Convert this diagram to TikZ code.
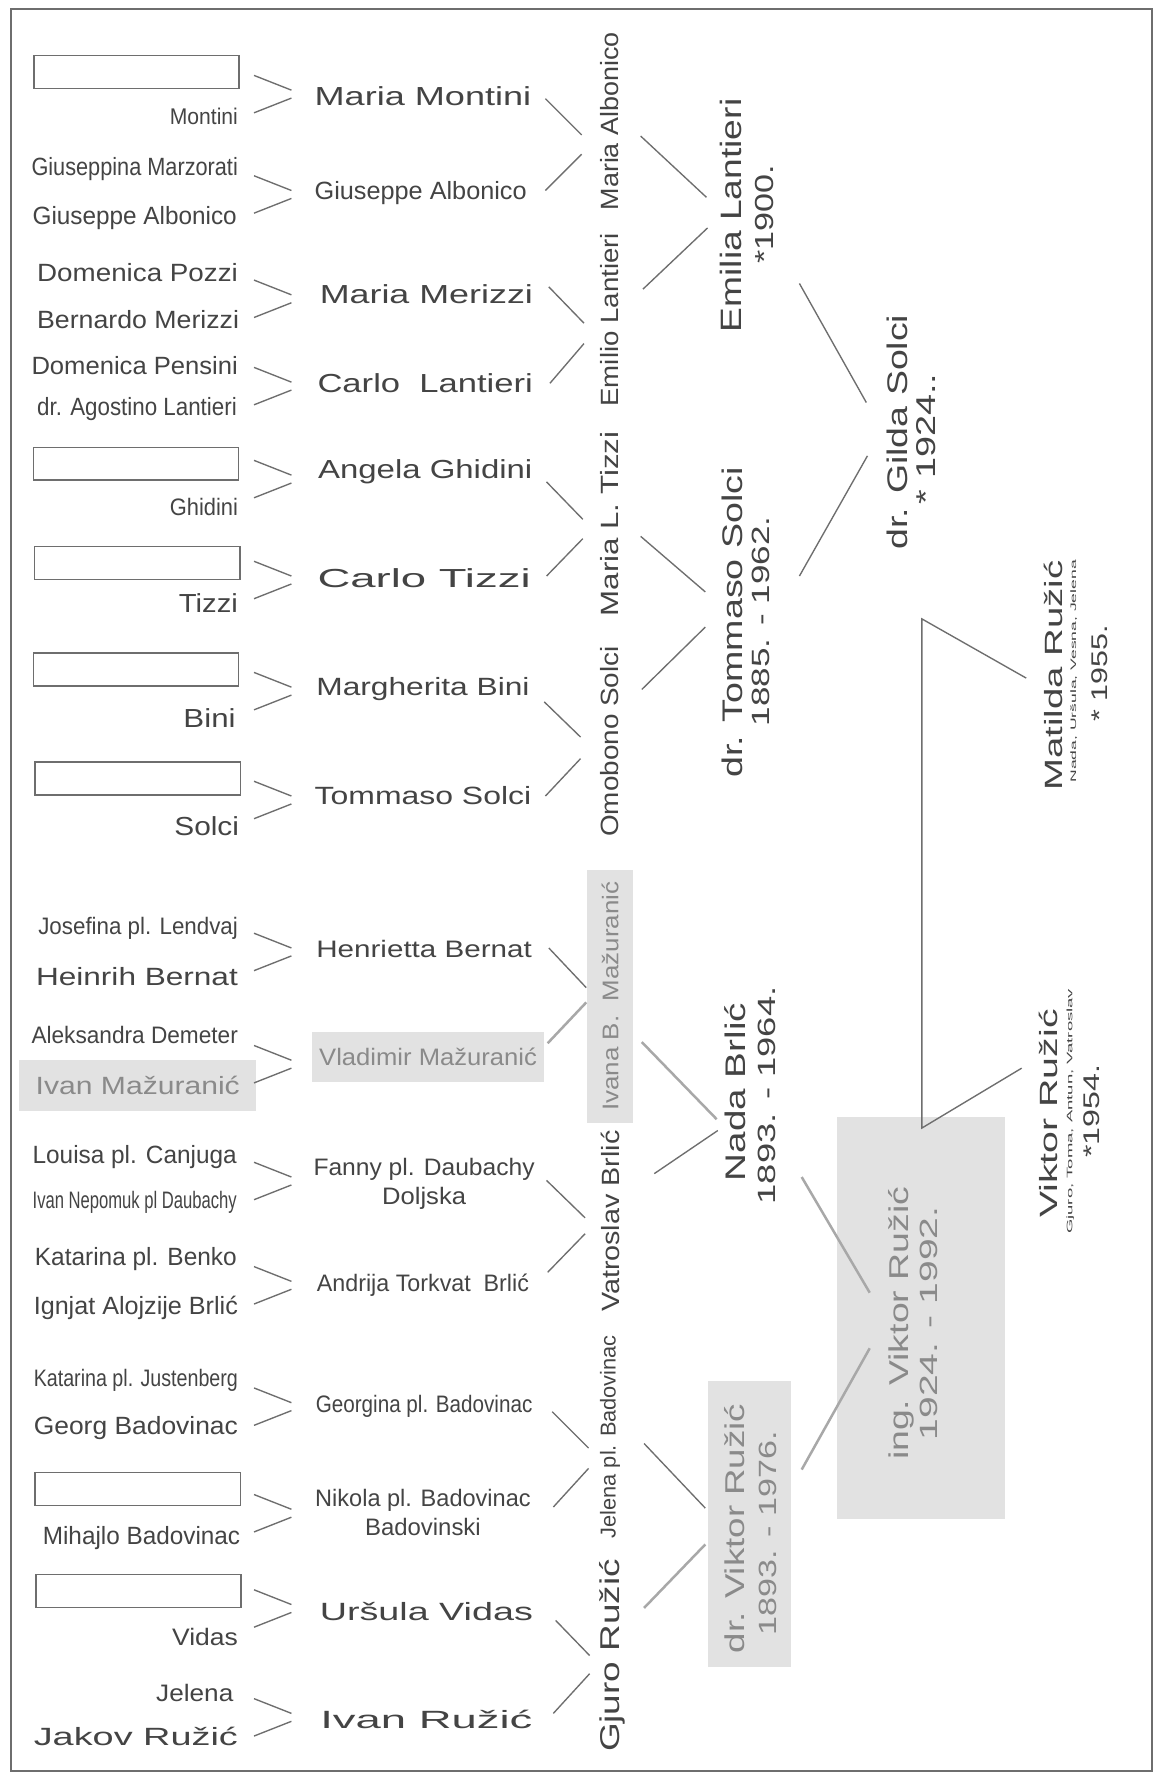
\documentclass[tikz,border=0pt]{standalone}
\usepackage{fontspec}
\setmainfont{Liberation Sans}
\usetikzlibrary{calc}
\definecolor{txt}{HTML}{444444}
\definecolor{gtxt}{HTML}{8A8A8A}
\definecolor{lnc}{HTML}{6E6E6E}
\definecolor{boxg}{HTML}{E2E2E2}
\definecolor{glc}{HTML}{A8A8A8}
\newcommand\fw[3]{{\fontsize{#1}{#1}\selectfont\resizebox{#2pt}{\height}{#3}}}
\newcommand\chev[2]{%
  \draw[ln] ($(224,0|-#1)+(0,#2-16)$) -- ($(257,0|-#1)+(0,#2-3)$);
  \draw[ln] ($(224,0|-#1)+(0,#2+17)$) -- ($(257,0|-#1)+(0,#2+4)$);}
\newcommand\lk[5][ln]{\draw[#1] ($(#2)+(#3)$) -- ($(#4)+(#5)$);}
\tikzset{
  t/.style={inner sep=0pt, text=txt},
  lone/.style={t, anchor=east},
  rot/.style={t, rotate=90},
  ln/.style={draw=lnc, line width=1.2pt},
  gln/.style={draw=glc, line width=2.2pt},
  ebox/.style={draw=lnc, line width=1.4pt, minimum width=181pt, minimum height=29pt, inner sep=0pt},
  gbox/.style={fill=boxg, inner sep=0pt, text=gtxt},
  frame/.style={draw=lnc, line width=1.5pt}
}
\begin{document}
\begin{tikzpicture}[x=1pt,y=-1pt]
\useasboundingbox (0,0) rectangle (1021,1568);
\fill[white] (0,0) rectangle (1021,1568);
\draw[frame] (10,8) rectangle (1016,1562);

% ---- gray boxes ----
\node[gbox, minimum width=74pt, minimum height=252pt] (dvb) at (661,1344) {};
\node[gbox, minimum width=148pt, minimum height=355pt] (ingvb) at (812,1162.5) {};

% ---- column 1 ----
\node[ebox] (b1) at (120.5,63.5) {};
\node[lone] (p1b) at (210,103) {\fw{20}{60}{Montini}};
\node[lone] (p2a) at (210,149) {\fw{22}{182}{Giuseppina Marzorati}};
\node[lone] (p2b) at (209,192) {\fw{22}{180}{Giuseppe Albonico}};
\node[lone] (p3a) at (210,240) {\fw{22}{177}{Domenica Pozzi}};
\node[lone] (p3b) at (211,282) {\fw{22}{178}{Bernardo Merizzi}};
\node[lone] (p4a) at (210,322) {\fw{22}{182}{Domenica Pensini}};
\node[lone] (p4b) at (209,361) {\fw{22}{176}{dr. Agostino Lantieri}};
\node[ebox] (b5) at (120,409) {};
\node[lone] (p5b) at (210,447) {\fw{21}{60}{Ghidini}};
\node[ebox] (b6) at (121,496.5) {};
\node[lone] (p6b) at (210,532) {\fw{23}{52}{Tizzi}};
\node[ebox] (b7) at (120,590.5) {};
\node[lone] (p7b) at (208,633) {\fw{23}{46}{Bini}};
\node[ebox] (b8) at (121.5,686.6) {};
\node[lone] (p8b) at (211,729) {\fw{23}{57}{Solci}};
\node[lone] (p9a) at (210,819) {\fw{21}{176}{Josefina pl. Lendvaj}};
\node[lone] (p9b) at (210,861) {\fw{22}{178}{Heinrih Bernat}};
\node[lone] (p10a) at (210,913) {\fw{21}{182}{Aleksandra Demeter}};
\node[gbox, minimum width=209pt, minimum height=45pt] (p10b) at (121.5,957.5) {\fw{22}{180}{Ivan Mažuranić}};
\node[lone] (p11a) at (209,1020) {\fw{22}{180}{Louisa pl. Canjuga}};
\node[lone] (p11b) at (209,1060) {\fw{21}{180}{Ivan Nepomuk pl Daubachy}};
\node[lone] (p12a) at (209,1110) {\fw{22}{178}{Katarina pl. Benko}};
\node[lone] (p12b) at (210,1153) {\fw{22}{180}{Ignjat Alojzije Brlić}};
\node[lone] (p13a) at (210,1217) {\fw{21}{180}{Katarina pl. Justenberg}};
\node[lone] (p13b) at (210,1259) {\fw{22}{180}{Georg Badovinac}};
\node[ebox] (b14) at (121.5,1313) {};
\node[lone] (p14b) at (212,1356) {\fw{22}{174}{Mihajlo Badovinac}};
\node[ebox] (b15) at (122,1403) {};
\node[lone] (p15b) at (210,1444) {\fw{21}{58}{Vidas}};
\node[lone] (p16a) at (206,1493) {\fw{21}{68}{Jelena}};
\node[lone] (p16b) at (210,1531) {\fw{22}{180}{Jakov Ružić}};

% ---- column 2 ----
\node[t] (mm) at (373,85) {\fw{23}{191}{Maria Montini}};
\node[t] (ga) at (371,170) {\fw{22}{187}{Giuseppe Albonico}};
\node[t] (mz) at (376,259) {\fw{23}{188}{Maria Merizzi}};
\node[t] (cl) at (375,338) {\fw{23}{190}{Carlo\ \ Lantieri}};
\node[t] (ag) at (375,416) {\fw{23}{189}{Angela Ghidini}};
\node[t] (ct) at (374,510) {\fw{23}{188}{Carlo Tizzi}};
\node[t] (mb) at (373,608) {\fw{22}{188}{Margherita Bini}};
\node[t] (ts) at (373,702) {\fw{22}{191}{Tommaso Solci}};
\node[t] (hb) at (374,837) {\fw{21}{190}{Henrietta Bernat}};
\node[gbox, minimum width=205pt, minimum height=44pt] (vm) at (377.5,932) {\fw{21}{192}{Vladimir Mažuranić}};
\node[t, align=center, font=\fontsize{21}{25}\selectfont] (fd) at (374,1044) {\fw{21}{195}{Fanny pl. Daubachy}\\\fw{21}{74}{Doljska}};
\node[t] (at) at (373,1133) {\fw{21}{187}{Andrija Torkvat\ \ Brlić}};
\node[t] (gp) at (374,1240) {\fw{21}{191}{Georgina pl. Badovinac}};
\node[t, align=center, font=\fontsize{21}{26}\selectfont] (nb) at (373,1334) {\fw{21}{190}{Nikola pl. Badovinac}\\\fw{21}{102}{Badovinski}};
\node[t] (uv) at (376,1421) {\fw{22}{188}{Uršula Vidas}};
\node[t] (ir) at (376,1516) {\fw{22}{187}{Ivan Ružić}};

% ---- column 3 ----
\node[rot] (ma) at (538,107) {\fw{22}{157}{Maria Albonico}};
\node[rot] (el) at (538,282) {\fw{22}{153}{Emilio Lantieri}};
\node[rot] (mt) at (538,462) {\fw{22}{163}{Maria L. Tizzi}};
\node[rot] (os) at (538,654) {\fw{22}{168}{Omobono Solci}};
\node[rot, gbox, minimum width=223pt, minimum height=40pt] (ib) at (538,878.5) {\fw{20}{202}{Ivana B.\ \ Mažuranić}};
\node[rot] (vb) at (538,1077) {\fw{22}{160}{Vatroslav Brlić}};
\node[rot] (jb) at (538,1267) {\fw{19}{179}{Jelena pl. Badovinac}};
\node[rot] (gr) at (540,1460) {\fw{24}{170}{Gjuro Ružić}};

% ---- column 4 ----
\node[rot] (em) at (645,190) {\fw{26}{206}{Emilia Lantieri}};
\node[rot] (emd) at (674,189) {\fw{23}{87}{*1900.}};
\node[rot] (tm) at (646,549) {\fw{25}{274}{dr. Tommaso Solci}};
\node[rot] (tmd) at (671,548) {\fw{22}{185}{1885. - 1962.}};
\node[rot] (nd) at (648,963) {\fw{25}{157}{Nada Brlić}};
\node[rot] (ndd) at (676,966) {\fw{22}{192}{1893. - 1964.}};
\node[rot, text=gtxt] (dv) at (648,1348) {\fw{24}{220}{dr. Viktor Ružić}};
\node[rot, text=gtxt] (dvd) at (677,1352) {\fw{22}{180}{1893. - 1976.}};

% ---- column 5 ----
\node[rot] (gs) at (791,381) {\fw{25}{207}{dr. Gilda Solci}};
\node[rot] (gsd) at (817,387) {\fw{24}{115}{* 1924..}};
\node[rot, text=gtxt] (iv) at (795,1167) {\fw{24}{241}{ing. Viktor Ružić}};
\node[rot, text=gtxt] (ivd) at (819,1167) {\fw{22}{206}{1924. - 1992.}};

% ---- column 6 ----
\node[rot] (mr) at (929,596) {\fw{22}{203}{Matilda Ružić}};
\node[rot] (mrs) at (947,592) {\fw{7}{196}{Nada, Uršula, Vesna, Jelena}};
\node[rot] (mrd) at (970,594) {\fw{20}{85}{* 1955.}};
\node[rot] (vr) at (925,982) {\fw{22}{184}{Viktor Ružić}};
\node[rot] (vrs) at (944,980) {\fw{7}{216}{Gjuro, Toma, Antun, Vatroslav}};
\node[rot] (vrd) at (963,980) {\fw{20}{82}{*1954.}};

% ---- chevrons (parents -> child) ----
\chev{mm}{-2.5}
\chev{ga}{1}
\chev{mz}{4}
\chev{cl}{2}
\chev{ag}{6}
\chev{ct}{1}
\chev{mb}{1}
\chev{ts}{3}
\chev{hb}{2}
\chev{vm}{6}
\chev{fd}{-3}
\chev{at}{0}
\chev{gp}{0}
\chev{nb}{0}
\chev{uv}{-3}
\chev{ir}{-2}

% ---- column 2 -> column 3 ----
\lk{mm}{108,2}{ma}{-25,12}
\lk{ga}{110,-2}{ma}{-25,29}
\lk{mz}{108,-6}{el}{-23,3}
\lk{cl}{110,0}{el}{-23,21}
\lk{ag}{107,9}{mt}{-24,-4}
\lk{ct}{108,-2}{mt}{-24,13}
\lk{mb}{107,11}{os}{-26,-4}
\lk{ts}{108,0}{os}{-26,15}
\lk{hb}{110,-1}{ib}{-21,-7.5}
\lk[gln]{vm}{105.5,-12}{ib}{-21,5.5}
\lk{fd}{108,-3}{vb}{-22,-3}
\lk{at}{110,-11}{vb}{-22,11}
\lk{gp}{113,5}{jb}{-19,10}
\lk{nb}{115,-5}{jb}{-19,28}
\lk{uv}{114,8}{gr}{-20,0}
\lk{ir}{112,-5}{gr}{-20,16}

% ---- column 3 -> column 4 ----
\lk{ma}{27,13}{em}{-22,-16}
\lk{el}{29,-27}{em}{-21,11}
\lk{mt}{27,11}{tm}{-24,-27}
\lk{os}{28,-46}{tm}{-24,4}
\lk[gln]{ib}{28,40.5}{nd}{-16,24}
\lk{vb}{39,-42}{nd}{-15,34}
\lk{jb}{30,6}{dv}{-26,-18}
\lk[gln]{gr}{28,-42}{dv}{-26,14}

% ---- column 4 -> column 5 ----
\lk{em}{60,60}{gs}{-27,-26}
\lk{tm}{59,-41}{gs}{-26,21}
\lk[gln]{nd}{59,75}{iv}{-28,-27}
\lk[gln]{dv}{59,-52}{iv}{-28,22}

% ---- children ----
\draw[ln] ($(mr)+(-24,2)$) -- ($(ingvb.north)+(1,-439)$) -- ($(ingvb.north)+(1,10)$) -- ($(vr)+(-24,-40)$);
\end{tikzpicture}
\end{document}
